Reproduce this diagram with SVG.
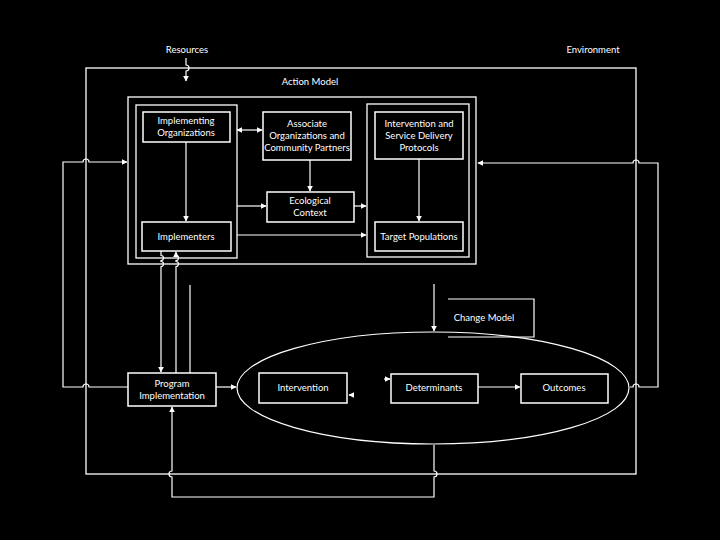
<svg xmlns="http://www.w3.org/2000/svg" width="720" height="540" viewBox="0 0 720 540">
<style>
.bg{fill:#000}
.box{fill:#000;stroke:#fff;stroke-width:1.5}
.frame{fill:none;stroke:#fff;stroke-width:1.3}
.ln{fill:none;stroke:#fff;stroke-width:1.2}
.arr{fill:none;stroke:#fff;stroke-width:1.2;marker-end:url(#ah)}
.t{font-family:Lato,"Open Sans","Liberation Sans",sans-serif;font-size:9.5px;fill:#fff;text-anchor:middle}
</style>
<defs>
<marker id="ah" viewBox="0 0 10 10" refX="9" refY="5" markerWidth="6" markerHeight="6" markerUnits="userSpaceOnUse" orient="auto-start-reverse">
<path d="M0,0 L10,5 L0,10 z" fill="#fff"/>
</marker>
</defs>
<rect class="bg" x="0" y="0" width="720" height="540"/>

<g id="labels">
<text class="t" x="187" y="53">Resources</text>
<text class="t" x="593" y="53">Environment</text>
<text class="t" x="310" y="85">Action Model</text>
</g>

<g id="action-model">
<rect class="frame" x="128" y="97" width="348" height="167"/>
<rect class="frame" x="136" y="105" width="101" height="153"/>
<rect class="frame" x="367" y="104" width="102" height="153"/>
</g>

<g id="implementing-organizations">
<rect class="box" x="143" y="112" width="87" height="30"/>
<text class="t" x="186" y="124">Implementing</text>
<text class="t" x="186" y="136">Organizations</text>
</g>
<g id="associate-organizations">
<rect class="box" x="263" y="112" width="88" height="48"/>
<text class="t" x="307" y="127">Associate</text>
<text class="t" x="307" y="139">Organizations and</text>
<text class="t" x="307" y="151">Community Partners</text>
</g>
<g id="intervention-protocols">
<rect class="box" x="375" y="112" width="88" height="47"/>
<text class="t" x="419" y="127">Intervention and</text>
<text class="t" x="419" y="139">Service Delivery</text>
<text class="t" x="419" y="151">Protocols</text>
</g>
<g id="ecological-context">
<rect class="box" x="267" y="192" width="87" height="30"/>
<text class="t" x="310" y="204">Ecological</text>
<text class="t" x="310" y="216">Context</text>
</g>
<g id="implementers">
<rect class="box" x="142" y="222" width="89" height="29"/>
<text class="t" x="186" y="240">Implementers</text>
</g>
<g id="target-populations">
<rect class="box" x="375" y="222" width="88" height="29"/>
<text class="t" x="419" y="240">Target Populations</text>
</g>

<g id="change-model">
<path class="ln" d="M448,299 H534 V337 H448"/>
<text class="t" x="484" y="321">Change Model</text>
<ellipse class="ln" cx="433" cy="388" rx="196" ry="56"/>
</g>

<g id="program-implementation">
<rect class="box" x="128" y="373" width="88" height="33"/>
<text class="t" x="172" y="387">Program</text>
<text class="t" x="172" y="399">Implementation</text>
</g>
<g id="intervention">
<rect class="box" x="259" y="373" width="88" height="30"/>
<text class="t" x="303" y="391">Intervention</text>
</g>
<g id="determinants">
<rect class="box" x="391" y="374" width="87" height="29"/>
<text class="t" x="434" y="391">Determinants</text>
</g>
<g id="outcomes">
<rect class="box" x="521" y="374" width="87" height="29"/>
<text class="t" x="564" y="391">Outcomes</text>
</g>

<g id="connectors">
<rect class="frame" x="86" y="68" width="550" height="406"/>
<path class="arr" d="M186,58 V65 a3,3 0 0 1 0,6 V81"/>
<path class="arr" d="M128,387 H89 a3,3 0 0 0 -6,0 H63 V162 H83 a3,3 0 0 1 6,0 H127"/>
<path class="arr" d="M630,387 H633 a3,3 0 0 1 6,0 H658 V163 H639 a3,3 0 0 0 -6,0 H478"/>
<path class="arr" d="M434,445 V471 a3,3 0 0 1 0,6 V497 H172 V477 a3,3 0 0 1 0,-6 V407"/>
<path class="arr" d="M186,142 V221"/>
<path class="arr" d="M310,160 V191"/>
<path class="arr" d="M419,159 V221"/>
<path class="arr" d="M237,130 H262" style="marker-start:url(#ah)"/>
<path class="arr" d="M237,206 H266"/>
<path class="arr" d="M354,206 H366"/>
<path class="arr" d="M237,235 H366"/>
<path class="arr" d="M161,251 V255.5 a2.5,2.5 0 0 1 0,5 V261.5 a2.5,2.5 0 0 1 0,5 V372"/>
<path class="arr" d="M176,373 V266.5 a2.5,2.5 0 0 0 0,-5 V260.5 a2.5,2.5 0 0 0 0,-5 V252"/>
<path class="ln" d="M190,373 V285"/>
<path class="arr" d="M434,284 V331"/>
<path class="arr" d="M216,387 H236"/>
<path class="arr" d="M478,387 H520"/>
<path class="arr" d="M354,395 H349"/>
<path class="arr" d="M384,379 H390"/>
</g>
</svg>
